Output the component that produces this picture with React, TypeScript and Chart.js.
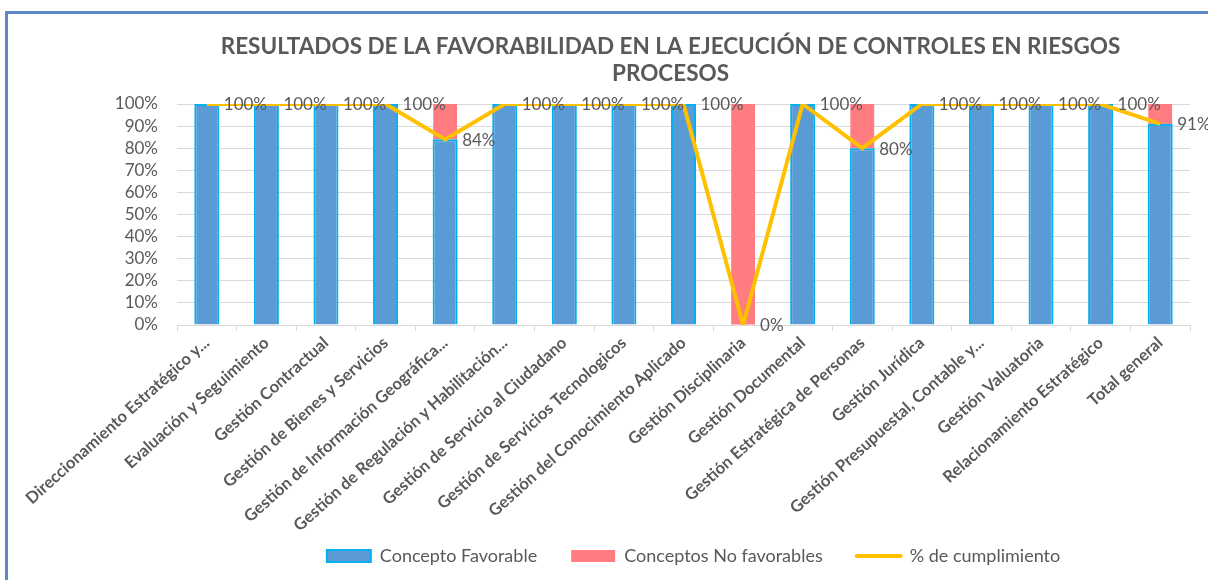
import React, { useEffect, useRef } from "react";
import { Chart, registerables } from "chart.js";

Chart.register(...registerables);

const chartTitle = [
  "RESULTADOS DE LA FAVORABILIDAD EN LA EJECUCIÓN DE CONTROLES EN RIESGOS",
  "PROCESOS",
];

const categories = [
  "Direccionamiento Estratégico y...",
  "Evaluación y Seguimiento",
  "Gestión Contractual",
  "Gestión de Bienes y Servicios",
  "Gestión de Información Geográfica...",
  "Gestión de Regulación y Habilitación...",
  "Gestión de Servicio al Ciudadano",
  "Gestión de Servicios Tecnologicos",
  "Gestión del Conocimiento Aplicado",
  "Gestión Disciplinaria",
  "Gestión Documental",
  "Gestión Estratégica de Personas",
  "Gestión Jurídica",
  "Gestión Presupuestal, Contable y...",
  "Gestión Valuatoria",
  "Relacionamiento Estratégico",
  "Total general",
];

const seriesNames = ["Concepto Favorable", "Conceptos No favorables", "% de cumplimiento"];

const favorable = [100, 100, 100, 100, 84, 100, 100, 100, 100, 0, 100, 80, 100, 100, 100, 100, 91];
const noFavorable = [0, 0, 0, 0, 16, 0, 0, 0, 0, 100, 0, 20, 0, 0, 0, 0, 9];
const cumplimiento = [100, 100, 100, 100, 84, 100, 100, 100, 100, 0, 100, 80, 100, 100, 100, 100, 91];

const yMin = 0;
const yMax = 100;
const yStep = 10;

const FONT = "Lato, 'Open Sans', sans-serif";
const GRAY = "#595959";
const BLUE = "#5B9BD5";
const CYAN = "#00B0F0";
const RED = "#FF7C80";
const GOLD = "#FFC000";
const GRID = "#D9D9D9";

export default function App() {
  const ref = useRef<HTMLCanvasElement | null>(null);

  useEffect(() => {
    if (!ref.current) return;

    const lineLabels = {
      id: "lineLabels",
      afterDatasetsDraw(chart: any) {
        const ctx = chart.ctx;
        const meta = chart.getDatasetMeta(2);
        ctx.save();
        ctx.font = `17px ${FONT}`;
        ctx.fillStyle = GRAY;
        ctx.textAlign = "left";
        ctx.textBaseline = "middle";
        meta.data.forEach((pt: any, i: number) => {
          ctx.fillText(cumplimiento[i] + "%", pt.x + 17, pt.y + 1);
        });
        ctx.restore();
      },
    };

    // let the rotated category labels run down toward the legend without being clipped,
    // and nudge title / legend horizontally like the original layout
    const layoutTweaks = {
      id: "layoutTweaks",
      afterLayout(chart: any) {
        if (chart.scales.x) chart.scales.x.bottom = chart.height;
        if (chart.titleBlock) chart.titleBlock.left -= 26;
        if (chart.legend) {
          chart.legend.left += 10;
          chart.legend.right += 10;
        }
      },
    };

    const chart = new Chart(ref.current, {
      type: "bar",
      data: {
        labels: categories,
        datasets: [
          {
            type: "bar",
            label: seriesNames[0],
            data: favorable,
            backgroundColor: BLUE,
            borderColor: CYAN,
            borderWidth: 2,
            stack: "s",
            order: 1,
            barPercentage: 0.42,
            categoryPercentage: 1,
          },
          {
            type: "bar",
            label: seriesNames[1],
            data: noFavorable,
            backgroundColor: RED,
            borderWidth: 0,
            stack: "s",
            order: 1,
            barPercentage: 0.4,
            categoryPercentage: 1,
          },
          {
            type: "line",
            label: seriesNames[2],
            data: cumplimiento,
            borderColor: GOLD,
            backgroundColor: GOLD,
            borderWidth: 4,
            pointRadius: 0,
            tension: 0,
            stack: "line",
            order: 0,
          },
        ],
      } as any,
      options: {
        animation: false,
        responsive: false,
        maintainAspectRatio: false,
        layout: { padding: { top: 33, right: 18, left: 0, bottom: 5 } },
        plugins: {
          tooltip: { enabled: false },
          title: {
            display: true,
            fullSize: false,
            text: chartTitle,
            color: GRAY,
            font: { family: FONT, size: 22.5, weight: "bold", lineHeight: 1.2 },
            padding: { top: 0, bottom: 17 },
          },
          legend: {
            position: "bottom",
            fullSize: false,
            labels: {
              usePointStyle: true,
              pointStyleWidth: 44,
              boxHeight: 12,
              padding: 34,
              color: GRAY,
              font: { family: FONT, size: 18 },
              generateLabels: (c: any) =>
                c.data.datasets.map((ds: any, i: number) => ({
                  text: ds.label,
                  datasetIndex: i,
                  fillStyle: ds.type === "line" ? GOLD : ds.backgroundColor,
                  strokeStyle: ds.type === "line" ? GOLD : ds.borderColor || ds.backgroundColor,
                  lineWidth: ds.type === "line" ? 4 : i === 0 ? 2 : 0,
                  lineCap: "round",
                  pointStyle: ds.type === "line" ? "line" : "rect",
                  fontColor: GRAY,
                  hidden: false,
                })),
            },
          },
        },
        scales: {
          x: {
            stacked: true,
            offset: true,
            grid: {
              display: true,
              drawOnChartArea: false,
              drawTicks: true,
              tickLength: 6,
              color: GRID,
            },
            border: { display: true, color: GRID, width: 1 },
            ticks: {
              autoSkip: false,
              minRotation: 42,
              maxRotation: 42,
              padding: 2,
              color: GRAY,
              font: { family: FONT, size: 16.5, weight: "bold" },
            },
            afterFit: (scale: any) => {
              scale.height = 188;
            },
          },
          y: {
            stacked: true,
            min: yMin,
            max: yMax,
            ticks: {
              autoSkip: false,
              stepSize: yStep,
              padding: 19,
              color: GRAY,
              font: { family: FONT, size: 17 },
              callback: (v: any) => v + "%",
            },
            grid: { color: GRID, drawTicks: false },
            border: { display: false },
            afterFit: (scale: any) => {
              scale.width = 177;
            },
          },
        },
      } as any,
      plugins: [lineLabels, layoutTweaks],
    });

    return () => chart.destroy();
  }, []);

  return (
    <div style={{ position: "fixed", left: 0, top: 0, width: 1208, height: 580, background: "#fff", overflow: "hidden" }}>
      <div
        style={{
          position: "absolute",
          left: 5,
          top: 11,
          width: 1400,
          height: 800,
          borderTop: "3px solid #5B87C6",
          borderLeft: "3px solid #5B87C6",
        }}
      />
      <canvas ref={ref} width={1208} height={580} style={{ position: "absolute", left: 0, top: 0, width: 1208, height: 580 }} />
    </div>
  );
}
